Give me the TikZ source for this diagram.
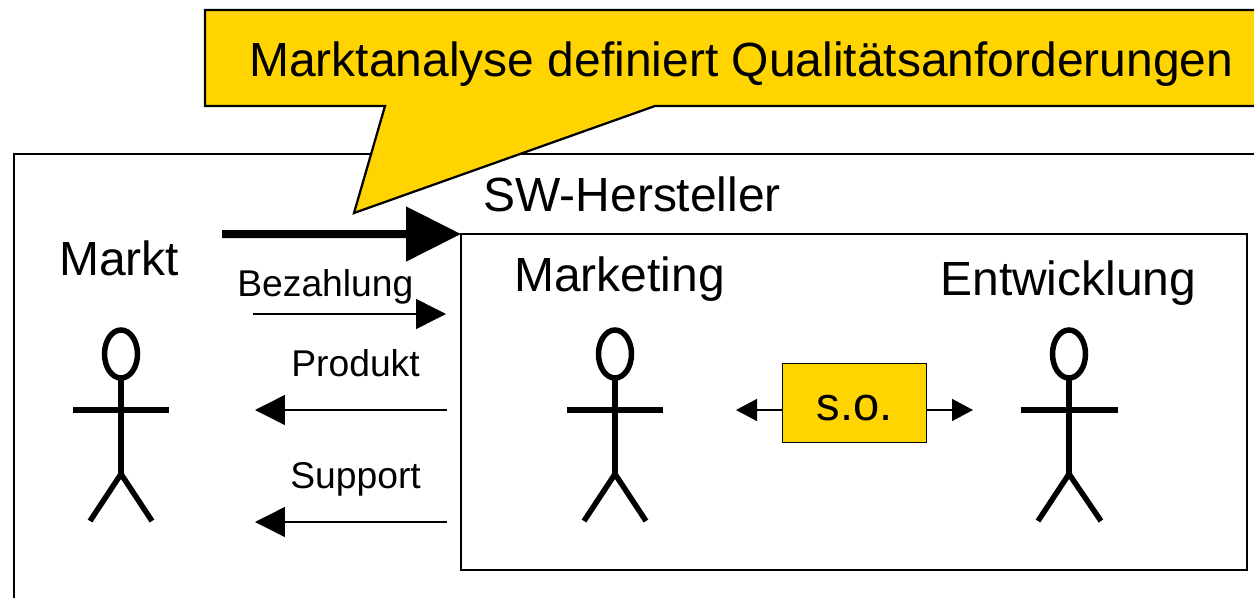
\documentclass[tikz,border=0pt]{standalone}
\usepackage{fontspec}
\setmainfont{Liberation Sans}
\usetikzlibrary{arrows.meta}
\definecolor{calloutyellow}{RGB}{255,212,0}
\tikzset{
    frameline/.style={black, line width=0.045cm},
    limb/.style={black, line width=0.11cm},
    thinarrow/.style={black, line width=0.03cm, -{Triangle[length=0.6cm,width=0.6cm]}},
    soarrow/.style={black, line width=0.03cm, -{Triangle[length=0.42cm,width=0.44cm]}},
    biglabel/.style={anchor=base west, inner sep=0pt, font=\fontsize{27.3pt}{30pt}\selectfont},
    smalllabel/.style={anchor=base west, inner sep=0pt, font=\fontsize{21.2pt}{24pt}\selectfont}
}

\begin{document}
\begin{tikzpicture}[x=0.02cm, y=-0.02cm]
            \useasboundingbox (0,0) rectangle (1254,598);
            \clip (0,0) rectangle (1254,598);

            % frames
            \draw[frameline] (14,154) rectangle (1300,650);
            \node[draw, frameline, minimum width=15.72cm, minimum height=6.72cm, inner sep=0pt, outer sep=0pt] (entwicklungsbox) at (854,402) {};
            \filldraw[frameline, fill=calloutyellow] (205,10) -- (1300,10) -- (1300,106) -- (655,106) -- (354,213) -- (385,106) -- (205,106) -- cycle;

            % labels
            \node[biglabel] (titel) at (249,77) {Marktanalyse definiert Qualitätsanforderungen};
            \node[biglabel] (hersteller) at (483,211) {SW-Hersteller};
            \node[biglabel] (markt) at (59,275) {Markt};
            \node[biglabel] (marketing) at (514,291) {Marketing};
            \node[biglabel] (entwicklung) at (940,295) {Entwicklung};
            \node[smalllabel] (bezahlung) at (237,296) {Bezahlung};
            \node[smalllabel] (produkt) at (291,376) {Produkt};
            \node[smalllabel] (support) at (290,488) {Support};

            % arrows
            \coordinate (bigstart) at (222,234);
            \coordinate (bezahlstart) at (253,314);
            \coordinate (bezahlend) at (446,314);
            \coordinate (produktstart) at (447,410);
            \coordinate (produktend) at (255,410);
            \coordinate (supportstart) at (447,522);
            \coordinate (supportend) at (255,522);
            \coordinate (soleft) at (736,410);
            \coordinate (soright) at (973,410);

            \draw[black, line width=0.16cm, -{Triangle[length=1.1cm,width=1.06cm]}] (bigstart) -- (entwicklungsbox.north west);
            \draw[thinarrow] (bezahlstart) -- (bezahlend);
            \draw[thinarrow] (produktstart) -- (produktend);
            \draw[thinarrow] (supportstart) -- (supportend);

            \node[draw, black, line width=0.03cm, fill=calloutyellow, minimum width=2.88cm, minimum height=1.58cm, inner sep=0pt, outer sep=0pt, text height=0.68cm, text depth=0cm, font=\fontsize{26.8pt}{30pt}\selectfont] (so) at (854.5,403) {s.o.};
            \draw[soarrow] (so.west |- soleft) -- (soleft);
            \draw[soarrow] (so.east |- soright) -- (soright);

            % markt figure
            \draw[limb] (121,354) ellipse (0.33cm and 0.48cm);
            \draw[limb] (121,378) -- (121,474);
            \draw[limb] (73,410) -- (169,410);
            \draw[limb] (121,474) -- (90,521);
            \draw[limb] (121,474) -- (152,521);

            % marketing figure
            \draw[limb] (615,354) ellipse (0.33cm and 0.48cm);
            \draw[limb] (615,378) -- (615,474);
            \draw[limb] (567,410) -- (663,410);
            \draw[limb] (615,474) -- (584,521);
            \draw[limb] (615,474) -- (646,521);

            % entwicklung figure
            \draw[limb] (1069,354) ellipse (0.33cm and 0.48cm);
            \draw[limb] (1069,378) -- (1069,474);
            \draw[limb] (1021,410) -- (1118,410);
            \draw[limb] (1069,474) -- (1038,521);
            \draw[limb] (1069,474) -- (1101,521);
\end{tikzpicture}
\end{document}
